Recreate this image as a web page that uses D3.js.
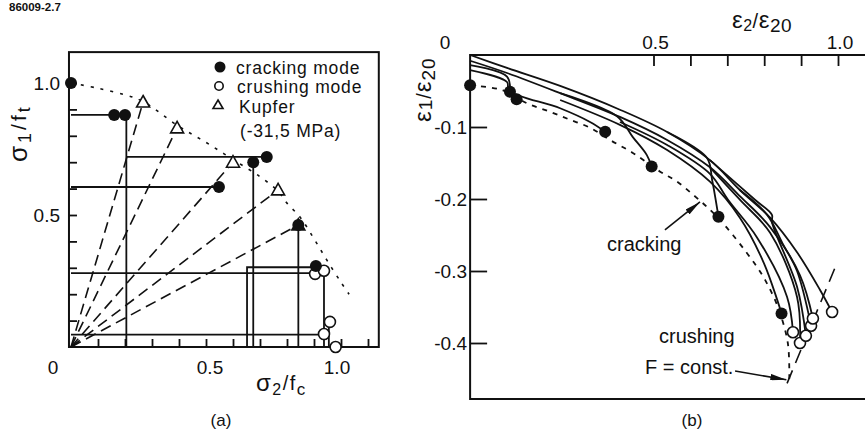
<!DOCTYPE html>
<html>
<head>
<meta charset="utf-8">
<script src="https://cdn.jsdelivr.net/npm/d3@7"></script>
<style>
  body { margin: 0; background: #fff; }
  svg text { font-family: "Liberation Sans", Arial, Helvetica, sans-serif; fill: #111; }
</style>
</head>
<body>
<svg id="chart" width="865" height="435"></svg>
<script>
// ---------------------------------------------------------------------------
// Data
//
// (a) biaxial stress plane, sigma2/fc vs sigma1/ft
var envelope_a = [[0, 1.0], [0.1, 0.98], [0.2, 0.955], [0.267, 0.93], [0.393, 0.84], [0.5, 0.775],
  [0.6, 0.71], [0.7, 0.645], [0.767, 0.59], [0.8, 0.545], [0.85, 0.49], [0.9, 0.41], [0.95, 0.325],
  [1.0, 0.245], [1.03, 0.2]];
var kupfer_a = [[0.267, 0.928], [0.393, 0.83], [0.6, 0.70], [0.767, 0.595], [0.842, 0.462]];
var cracking_a = [[0, 1.0], [0.16, 0.879], [0.2, 0.879], [0.548, 0.606], [0.675, 0.70], [0.725, 0.72],
  [0.842, 0.462], [0.907, 0.307]];
var crushing_a = [[0.904, 0.277], [0.937, 0.289], [0.959, 0.095], [0.937, 0.049], [0.98, 0.0]];
var paths_a = [
  [[0, 0.879], [0.16, 0.879]],
  [[0.205, 0], [0.205, 0.879]],
  [[0.205, 0.72], [0.725, 0.72]],
  [[0.675, 0], [0.675, 0.70]],
  [[0, 0.606], [0.548, 0.606]],
  [[0, 0.28], [0.904, 0.28]],
  [[0.652, 0], [0.652, 0.302], [0.907, 0.302]],
  [[0.937, 0], [0.937, 0.289]],
  [[0.842, 0], [0.842, 0.462]],
  [[0, 0.047], [0.937, 0.047]],
  [[0.955, 0], [0.955, 0.095]]
];
var xticks_a = [0.1, 0.2, 0.3, 0.4, 0.5, 0.6, 0.7, 0.8, 0.9, 1.0, 1.1];
var yticks_a = [0.1, 0.2, 0.3, 0.4, 0.5, 0.6, 0.7, 0.8, 0.9, 1.0];
var xlabels_a = [0.5, 1.0];
var ylabels_a = [0.5, 1.0];
var legend_a = ["cracking mode", "crushing mode", "Kupfer", "(-31,5 MPa)"];

// (b) strain plane, eps2/eps20 vs eps1/eps20
var envelope_b = [[0.003, -0.042], [0.092, -0.049], [0.157, -0.067], [0.22, -0.079], [0.274, -0.09],
  [0.328, -0.101], [0.382, -0.118], [0.444, -0.136], [0.518, -0.162], [0.564, -0.176], [0.607, -0.194],
  [0.645, -0.211], [0.68, -0.229], [0.715, -0.25], [0.753, -0.275], [0.78, -0.294], [0.802, -0.312],
  [0.837, -0.35], [0.864, -0.4], [0.868, -0.45]];
var fconst_b = [[0.862, -0.456], [0.998, -0.288]];
var cracking_b = [[0.003, -0.042], [0.111, -0.051], [0.129, -0.0615], [0.369, -0.1065], [0.495, -0.155],
  [0.676, -0.2245], [0.847, -0.359]];
var crushing_b = [[0.878, -0.385], [0.897, -0.4], [0.913, -0.39], [0.927, -0.376], [0.932, -0.366],
  [0.984, -0.357]];
var curves_b = [
  [[0.003, 0], [0.103, -0.018], [0.247, -0.043], [0.409, -0.076], [0.537, -0.107], [0.653, -0.146],
    [0.734, -0.1875], [0.816, -0.226], [0.889, -0.274], [0.951, -0.326], [0.984, -0.357]],
  [[0.003, -0.008], [0.103, -0.025], [0.247, -0.053], [0.409, -0.086], [0.537, -0.118], [0.653, -0.156],
    [0.734, -0.196], [0.816, -0.239], [0.897, -0.306], [0.932, -0.366]],
  [[0.003, -0.014], [0.103, -0.03], [0.111, -0.051]],
  [[0.003, -0.021], [0.103, -0.0375], [0.108, -0.049], [0.247, -0.074], [0.328, -0.093], [0.369, -0.1065]],
  [[0.247, -0.053], [0.401, -0.085], [0.444, -0.114], [0.482, -0.139], [0.495, -0.155]],
  [[0.537, -0.107], [0.645, -0.143], [0.659, -0.174], [0.676, -0.2245]],
  [[0.247, -0.0625], [0.409, -0.097], [0.537, -0.132], [0.653, -0.176], [0.734, -0.226], [0.8, -0.29],
    [0.847, -0.359]],
  [[0.409, -0.093], [0.537, -0.125], [0.653, -0.165], [0.702, -0.201], [0.78, -0.253], [0.862, -0.336],
    [0.878, -0.385]],
  [[0.653, -0.156], [0.734, -0.201], [0.816, -0.247], [0.889, -0.336], [0.897, -0.4]],
  [[0.653, -0.146], [0.775, -0.201], [0.821, -0.222], [0.821, -0.232], [0.889, -0.322], [0.913, -0.39]],
  [[0.734, -0.1875], [0.808, -0.222], [0.85, -0.262], [0.889, -0.3], [0.927, -0.376]]
];
var xticks_b = [0.5, 0.6, 0.7, 0.8, 0.9, 1.0];
var yticks_b = [-0.1, -0.2, -0.3, -0.4];
var xlabels_b = [0.5, 1.0];

(function () {
  "use strict";

  var svg = d3.select("#chart");
  svg.append("rect").attr("width", 865).attr("height", 435).attr("fill", "#fff");

  svg.append("defs").append("marker")
    .attr("id", "head")
    .attr("viewBox", "0 0 10 4")
    .attr("refX", 10).attr("refY", 2)
    .attr("markerWidth", 10).attr("markerHeight", 4)
    .attr("markerUnits", "strokeWidth")
    .attr("orient", "auto")
    .append("path").attr("d", "M0,0 L10,2 L0,4 Z").attr("fill", "#111");

  var line = d3.line();
  var smooth = d3.line().curve(d3.curveCatmullRom.alpha(0.5));

  function text(x, y, str, size, anchor) {
    return svg.append("text").attr("x", x).attr("y", y)
      .attr("font-size", size).attr("text-anchor", anchor || "start").text(str);
  }

  // main glyph, then [string, size, dy] pieces
  function label(sel, parts) {
    parts.forEach(function (p) {
      sel.append("tspan").attr("font-size", p[1]).attr("dy", p[2]).text(p[0]);
    });
    return sel;
  }

  function triangle(g, x, y, filled) {
    g.append("path")
      .attr("d", "M" + x + "," + (y - 6.5) + " L" + (x + 6.5) + "," + (y + 5) + " L" + (x - 6.5) + "," + (y + 5) + " Z")
      .attr("fill", filled ? "#111" : "#fff").attr("stroke", "#111").attr("stroke-width", 1.6);
  }

  text(9, 11, "86009-2.7", 11.5).attr("font-weight", "bold");

  ////////////////////////////////////////////////////////////////////////////
  //
  // (a)
  //
  var xa = d3.scaleLinear().domain([0, 1]).range([71, 341]);
  var ya = d3.scaleLinear().domain([0, 1]).range([347, 83]);
  var ga = svg.append("g");

  // frame
  ga.append("rect")
    .attr("x", xa(-0.0075)).attr("y", ya(1.117))
    .attr("width", xa(1.14) - xa(-0.0075)).attr("height", ya(0) - ya(1.117))
    .attr("fill", "none").attr("stroke", "#111").attr("stroke-width", 2);

  // inner ticks
  ga.append("g").attr("transform", "translate(0," + ya(0) + ")")
    .call(d3.axisTop(xa).tickValues(xticks_a).tickSize(8).tickFormat(""))
    .call(function (g) { g.select(".domain").remove(); });
  ga.append("g").attr("transform", "translate(" + xa(-0.0075) + ",0)")
    .call(d3.axisRight(ya).tickValues(yticks_a).tickSize(8).tickFormat(""))
    .call(function (g) { g.select(".domain").remove(); });
  ga.selectAll(".tick line").attr("stroke", "#111").attr("stroke-width", 1.8);

  // tick labels
  ga.selectAll("text.ylab").data(ylabels_a).enter().append("text")
    .attr("x", 60).attr("y", function (d) { return ya(d) + 7; })
    .attr("font-size", 19).attr("text-anchor", "end")
    .text(function (d) { return d.toFixed(1); });
  ga.selectAll("text.xlab").data(xlabels_a).enter().append("text")
    .attr("x", function (d) { return xa(d) + (d < 1 ? 4 : -4); }).attr("y", 374)
    .attr("font-size", 19).attr("text-anchor", "middle")
    .text(function (d) { return d.toFixed(1); });
  text(53, 374, "0", 19, "middle");

  // axis titles
  label(text(256, 391, "", 24).attr("letter-spacing", 1.5),
    [["σ", 24, 0], ["2", 16, 4], ["/", 20, -5], ["f", 20, 0], ["c", 17, 5]]);
  label(svg.append("text").attr("transform", "translate(27,162) rotate(-90)").attr("letter-spacing", 3),
    [["σ", 26, 0], ["1", 18, 4], ["/", 21, -5], ["f", 21, 0], ["t", 18, 4]]);

  // dashed rays to Kupfer points
  ga.selectAll("path.ray").data(kupfer_a).enter().append("path")
    .attr("d", function (d) { return line([[xa(0), ya(0)], [xa(d[0]), ya(d[1])]]); })
    .attr("fill", "none").attr("stroke", "#111").attr("stroke-width", 1.6)
    .attr("stroke-dasharray", "11,6");

  // failure envelope
  ga.append("path")
    .attr("d", smooth(envelope_a.map(function (d) { return [xa(d[0]), ya(d[1])]; })))
    .attr("fill", "none").attr("stroke", "#111").attr("stroke-width", 1.6)
    .attr("stroke-dasharray", "3,7");

  // stress paths
  ga.selectAll("path.sp").data(paths_a).enter().append("path")
    .attr("d", function (d) { return line(d.map(function (p) { return [xa(p[0]), ya(p[1])]; })); })
    .attr("fill", "none").attr("stroke", "#111").attr("stroke-width", 1.8);

  kupfer_a.forEach(function (d, i) {
    triangle(ga, xa(d[0]), ya(d[1]), i === kupfer_a.length - 1);
  });
  ga.selectAll("circle.cr").data(crushing_a).enter().append("circle")
    .attr("cx", function (d) { return xa(d[0]); }).attr("cy", function (d) { return ya(d[1]); })
    .attr("r", 5.5).attr("fill", "#fff").attr("stroke", "#111").attr("stroke-width", 1.6);
  ga.selectAll("circle.ck").data(cracking_a).enter().append("circle")
    .attr("cx", function (d) { return xa(d[0]); }).attr("cy", function (d) { return ya(d[1]); })
    .attr("r", 6).attr("fill", "#111");

  // legend
  ga.append("circle").attr("cx", 220).attr("cy", 67).attr("r", 5.5).attr("fill", "#111");
  ga.append("circle").attr("cx", 219).attr("cy", 86).attr("r", 4.2).attr("fill", "#fff")
    .attr("stroke", "#111").attr("stroke-width", 1.6);
  ga.append("path").attr("d", "M218,100 L223,108.5 L213,108.5 Z").attr("fill", "#fff")
    .attr("stroke", "#111").attr("stroke-width", 1.6);
  [[236, 73.5], [237, 93], [239, 112.5], [240, 137]].forEach(function (p, i) {
    text(p[0], p[1], legend_a[i], 17.5).attr("letter-spacing", 0.8);
  });

  text(221, 426, "(a)", 17, "middle");

  ////////////////////////////////////////////////////////////////////////////
  //
  // (b)
  //
  var xb = d3.scaleLinear().domain([0, 1]).range([469, 838]);
  var yb = d3.scaleLinear().domain([0, -0.4]).range([55, 343]);
  var gb = svg.append("g");

  gb.append("path")
    .attr("d", line([[865, yb(0)], [xb(0.003), yb(0)], [xb(0.003), yb(-0.4778)], [865, yb(-0.4778)]]))
    .attr("fill", "none").attr("stroke", "#111").attr("stroke-width", 2);

  gb.append("g").attr("transform", "translate(0," + yb(0) + ")")
    .call(d3.axisBottom(xb).tickValues(xticks_b).tickSize(11).tickFormat(""))
    .call(function (g) { g.select(".domain").remove(); });
  gb.append("g").attr("transform", "translate(" + xb(0.003) + ",0)")
    .call(d3.axisRight(yb).tickValues(yticks_b).tickSize(17).tickFormat(""))
    .call(function (g) { g.select(".domain").remove(); });
  gb.selectAll(".tick line").attr("stroke", "#111").attr("stroke-width", 1.8);

  gb.selectAll("text.ylab").data(yticks_b).enter().append("text")
    .attr("x", 467).attr("y", function (d) { return yb(d) + 7; })
    .attr("font-size", 19).attr("text-anchor", "end")
    .text(function (d) { return d.toFixed(1); });
  gb.selectAll("text.xlab").data(xlabels_b).enter().append("text")
    .attr("x", function (d) { return xb(d) + 2; }).attr("y", 49)
    .attr("font-size", 19).attr("text-anchor", "middle")
    .text(function (d) { return d.toFixed(1); });
  text(445, 49, "0", 19, "middle");

  label(text(732, 28, "", 24).attr("letter-spacing", 0.5),
    [["ε", 24, 0], ["2", 16, 3], ["/", 20, -3], ["ε", 24, 0], ["20", 19, 4]]);
  label(svg.append("text").attr("transform", "translate(431,122) rotate(-90)").attr("letter-spacing", 1),
    [["ε", 24, 0], ["1", 19, 1], ["/", 20, -1], ["ε", 24, 0], ["20", 19, 4]]);

  // strain paths
  gb.selectAll("path.sp").data(curves_b).enter().append("path")
    .attr("d", function (d) { return smooth(d.map(function (p) { return [xb(p[0]), yb(p[1])]; })); })
    .attr("fill", "none").attr("stroke", "#111").attr("stroke-width", 1.8)
    .attr("stroke-linejoin", "round");

  // cracking envelope and F = const.
  gb.append("path")
    .attr("d", smooth(envelope_b.map(function (d) { return [xb(d[0]), yb(d[1])]; })))
    .attr("fill", "none").attr("stroke", "#111").attr("stroke-width", 1.8)
    .attr("stroke-dasharray", "5,6");
  gb.append("path")
    .attr("d", line(fconst_b.map(function (d) { return [xb(d[0]), yb(d[1])]; })))
    .attr("fill", "none").attr("stroke", "#111").attr("stroke-width", 1.6)
    .attr("stroke-dasharray", "14,8");

  gb.selectAll("circle.cr").data(crushing_b).enter().append("circle")
    .attr("cx", function (d) { return xb(d[0]); }).attr("cy", function (d) { return yb(d[1]); })
    .attr("r", 5.5).attr("fill", "#fff").attr("stroke", "#111").attr("stroke-width", 1.6);
  gb.selectAll("circle.ck").data(cracking_b).enter().append("circle")
    .attr("cx", function (d) { return xb(d[0]); }).attr("cy", function (d) { return yb(d[1]); })
    .attr("r", 6).attr("fill", "#111");

  // annotations
  gb.append("path").attr("d", line([[xb(0.531), yb(-0.243)], [xb(0.626), yb(-0.204)]]))
    .attr("stroke", "#111").attr("stroke-width", 1.6).attr("marker-end", "url(#head)");
  gb.append("path").attr("d", line([[xb(0.721), yb(-0.439)], [xb(0.86), yb(-0.451)]]))
    .attr("stroke", "#111").attr("stroke-width", 1.6).attr("marker-end", "url(#head)");
  text(607, 251, "cracking", 20);
  text(659, 343, "crushing", 20);
  text(645, 374, "F = const.", 20);

  text(692, 426, "(b)", 17, "middle");
})();
</script>
</body>
</html>
